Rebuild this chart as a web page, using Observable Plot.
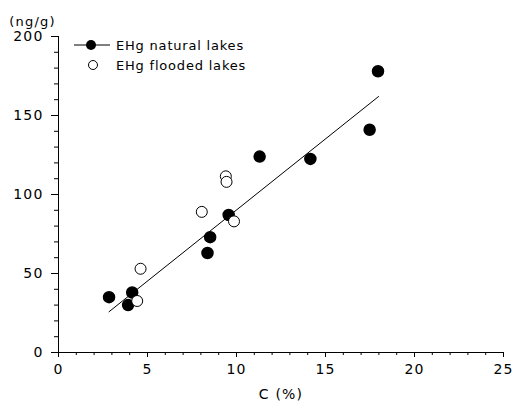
<!DOCTYPE html>
<html>
<head>
<meta charset="utf-8">
<script src="https://cdn.jsdelivr.net/npm/d3@7"></script>
<script src="https://cdn.jsdelivr.net/npm/@observablehq/plot@0.6"></script>
<style>
  body { margin: 0; background: #fff; }
  #wrap { position: relative; width: 513px; height: 404px; }
  #wrap svg text { letter-spacing: 1.2px; }
  #legend { position: absolute; left: 72px; top: 35px; font-family: "DejaVu Sans", sans-serif; font-size: 13px; letter-spacing: 0.8px; color: #000; }
  #legend .row { display: flex; align-items: center; height: 20px; }
  #legend svg { margin-right: 4px; }
</style>
</head>
<body>
<div id="wrap"></div>
<script>
// Data
const naturalC = [2.84, 3.91, 4.14, 8.37, 8.52, 9.56, 11.3, 14.15, 17.48, 17.95];
const naturalEHg = [35, 30, 38, 63, 73, 87, 124, 122.5, 141, 178];
const floodedC = [4.42, 4.61, 8.05, 9.40, 9.44, 9.86];
const floodedEHg = [32.6, 53, 89, 111.5, 108, 83];
const fitC = [2.84, 17.98];
const fitEHg = [25.8, 162];
const xMajor = [0, 5, 10, 15, 20, 25];
const xMinor = d3.range(0, 26, 1);
const yMajor = [0, 50, 100, 150, 200];
const yMinor = d3.range(0, 201, 10);
const xLabel = "C (%)";
const yLabel = "(ng/g)";
const legendLabels = ["EHg natural lakes", "EHg flooded lakes"];

const natural = naturalC.map((c, i) => ({c, v: naturalEHg[i]}));
const flooded = floodedC.map((c, i) => ({c, v: floodedEHg[i]}));
const fit = fitC.map((c, i) => ({c, v: fitEHg[i]}));

const chart = Plot.plot({
  width: 513,
  height: 404,
  marginLeft: 58,
  marginRight: 10,
  marginTop: 36,
  marginBottom: 52,
  style: {fontFamily: "DejaVu Sans, sans-serif", fontSize: "13px", color: "#000", background: "#fff"},
  x: {domain: [0, 25]},
  y: {domain: [0, 200]},
  marks: [
    Plot.axisX({ticks: xMinor, tickSize: 3, tickFormat: () => "", label: null}),
    Plot.axisX({ticks: xMajor, tickSize: 5, tickPadding: 7, label: null, fontSize: 14}),
    Plot.axisY({ticks: yMinor, tickSize: 4, tickFormat: () => "", label: null}),
    Plot.axisY({ticks: yMajor, tickSize: 7, tickPadding: 8, label: null, fontSize: 14}),
    Plot.ruleX([0], {y1: 0, y2: 200, stroke: "#000"}),
    Plot.ruleY([0], {x1: 0, x2: 25, stroke: "#000"}),
    Plot.line(fit, {x: "c", y: "v", stroke: "#000", strokeWidth: 1}),
    Plot.dot(natural, {x: "c", y: "v", r: 5.5, fill: "#000", stroke: "#000"}),
    Plot.dot(flooded, {x: "c", y: "v", r: 5.5, fill: "#fff", stroke: "#000", strokeWidth: 1}),
    Plot.text([xLabel], {frameAnchor: "bottom", dy: 46, fontSize: 14}),
    Plot.text([yLabel], {frameAnchor: "top-left", textAnchor: "middle", dx: -26, dy: -20, fontSize: 13})
  ]
});

const wrap = document.getElementById("wrap");
wrap.appendChild(chart);

const legend = document.createElement("div");
legend.id = "legend";
legend.innerHTML = `
  <div class="row">
    <svg width="40" height="14"><line x1="2" y1="7" x2="38" y2="7" stroke="#000" stroke-width="1.2"/><circle cx="19" cy="7" r="5" fill="#000"/></svg>
    <span>${legendLabels[0]}</span>
  </div>
  <div class="row">
    <svg width="40" height="14"><circle cx="21" cy="7" r="4.5" fill="#fff" stroke="#000" stroke-width="1"/></svg>
    <span>${legendLabels[1]}</span>
  </div>`;
wrap.appendChild(legend);
</script>
</body>
</html>
